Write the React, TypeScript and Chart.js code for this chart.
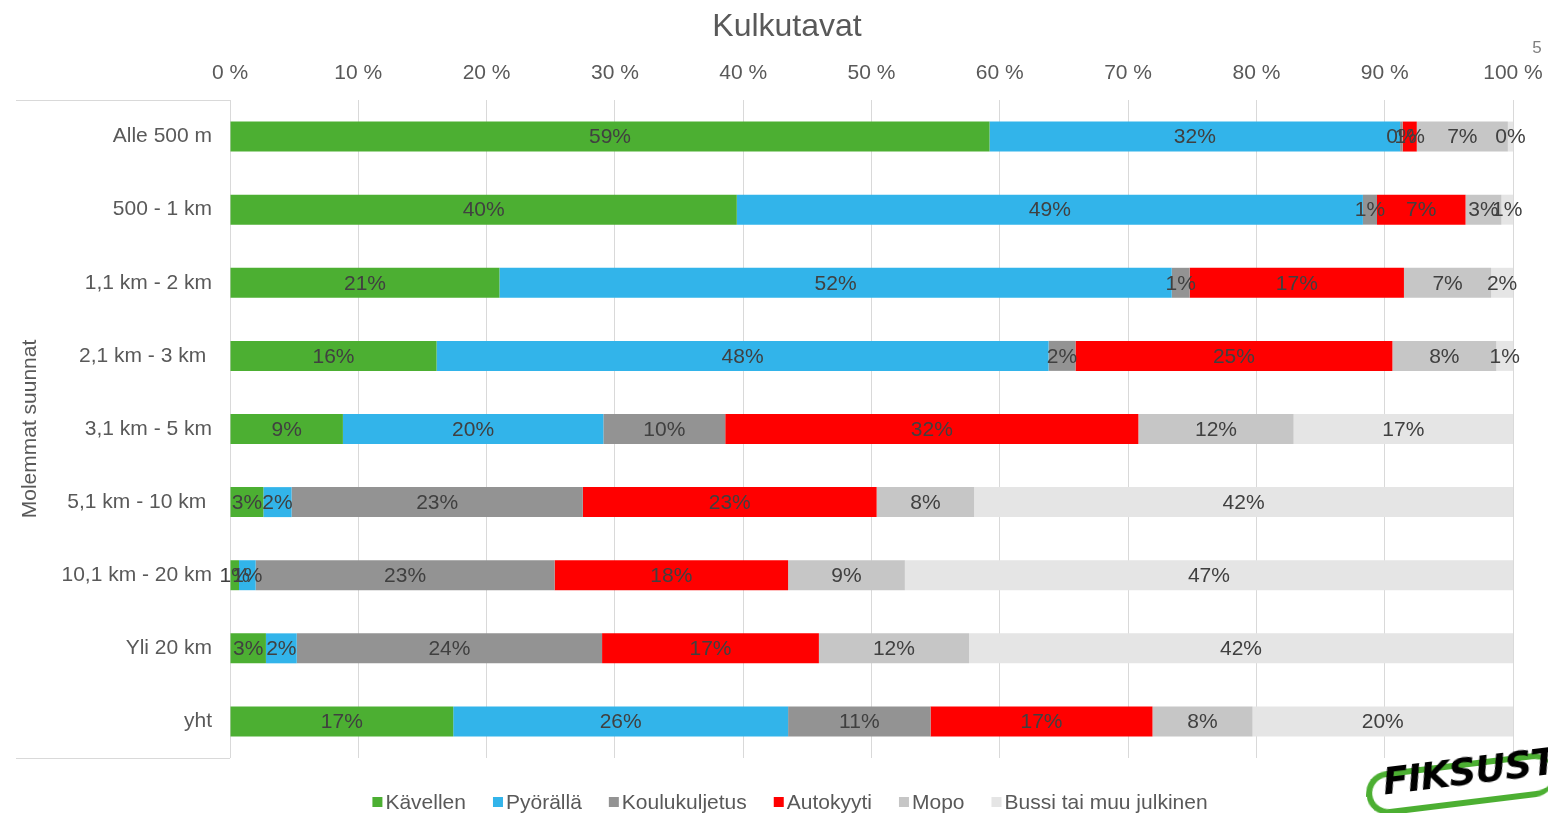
import React, { useEffect, useRef } from "react";
import { Chart, registerables } from "chart.js";
Chart.register(...registerables);

const chartTitle = "Kulkutavat";
const yAxisTitle = "Molemmat suunnat";
const pageNumber = "5";
const categories = [
  "Alle 500 m",
  "500 - 1 km",
  "1,1 km - 2 km",
  "2,1 km - 3 km ",
  "3,1 km - 5 km",
  "5,1 km - 10 km ",
  "10,1 km - 20 km",
  "Yli 20 km",
  "yht",
];
const seriesNames = ["Kävellen", "Pyörällä", "Koulukuljetus", "Autokyyti", "Mopo", "Bussi tai muu julkinen"];
const seriesColors = ["#4caf32", "#32b4ea", "#939393", "#ff0000", "#c6c6c6", "#e5e5e5"];
const kavellen = [59.2, 39.5, 21.0, 16.1, 8.8, 2.6, 0.7, 2.8, 17.4];
const pyoralla = [32.0, 48.8, 52.4, 47.7, 20.3, 2.2, 1.3, 2.4, 26.1];
const koulukuljetus = [0.2, 1.1, 1.4, 2.1, 9.5, 22.7, 23.3, 23.8, 11.1];
const autokyyti = [1.1, 6.9, 16.7, 24.7, 32.2, 22.9, 18.2, 16.9, 17.3];
const mopo = [7.1, 2.8, 6.8, 8.1, 12.1, 7.6, 9.1, 11.7, 7.8];
const bussi = [0.4, 0.9, 1.7, 1.3, 17.1, 42.0, 47.4, 42.4, 20.3];
const seriesValues = [kavellen, pyoralla, koulukuljetus, autokyyti, mopo, bussi];
const xTicks = [0, 10, 20, 30, 40, 50, 60, 70, 80, 90, 100];

const FONT = "'Liberation Sans', Arial, sans-serif";
const FS = 21;
const PAD_LEFT = 18;

const extrasPlugin = {
  id: "extras",
  afterDatasetsDraw(chart: any) {
    const ctx = chart.ctx;
    ctx.save();
    ctx.font = `${FS}px ${FONT}`;
    ctx.fillStyle = "#404040";
    ctx.textAlign = "center";
    ctx.textBaseline = "middle";
    chart.data.datasets.forEach((ds: any, di: number) => {
      const meta = chart.getDatasetMeta(di);
      meta.data.forEach((bar: any, i: number) => {
        const v = ds.data[i];
        const cx = (bar.x + bar.base) / 2;
        ctx.fillText(Math.round(v) + "%", cx, bar.y + 1);
      });
    });
    ctx.restore();
  },
  afterDraw(chart: any) {
    const ctx = chart.ctx;
    const area = chart.chartArea;
    ctx.save();
    ctx.strokeStyle = "#d9d9d9";
    ctx.lineWidth = 1;
    ctx.beginPath();
    ctx.moveTo(16, Math.round(area.top) + 0.5);
    ctx.lineTo(area.left, Math.round(area.top) + 0.5);
    ctx.moveTo(16, Math.round(area.bottom) + 0.5);
    ctx.lineTo(area.left, Math.round(area.bottom) + 0.5);
    ctx.stroke();
    // title
    ctx.fillStyle = "#595959";
    ctx.font = `32px ${FONT}`;
    ctx.textAlign = "center";
    ctx.textBaseline = "middle";
    ctx.fillText(chartTitle, 787, 27);
    // page number
    ctx.font = `17px ${FONT}`;
    ctx.fillStyle = "#7f7f7f";
    ctx.fillText(pageNumber, 1537, 48);
    // legend
    ctx.font = `${FS}px ${FONT}`;
    ctx.textAlign = "left";
    const box = 10;
    const gapText = 3;
    const gapItem = 27;
    const widths = seriesNames.map((n) => box + gapText + ctx.measureText(n).width);
    const total = widths.reduce((a, b) => a + b, 0) + gapItem * (seriesNames.length - 1);
    let x = 790 - total / 2;
    const cy = 802;
    seriesNames.forEach((n, i) => {
      ctx.fillStyle = seriesColors[i];
      ctx.fillRect(x, cy - box / 2, box, box);
      ctx.fillStyle = "#595959";
      ctx.fillText(n, x + box + gapText, cy + 1);
      x += widths[i] + gapItem;
    });
    ctx.restore();
  },
};

export default function App() {
  const canvasRef = useRef<HTMLCanvasElement | null>(null);

  useEffect(() => {
    if (!canvasRef.current) return;
    Chart.defaults.font.family = FONT;
    const chart = new Chart(canvasRef.current, {
      type: "bar",
      data: {
        labels: categories,
        datasets: seriesNames.map((name, i) => ({
          label: name,
          data: seriesValues[i],
          backgroundColor: seriesColors[i],
          borderWidth: 0,
          categoryPercentage: 1,
          barPercentage: 0.41,
        })),
      },
      options: {
        indexAxis: "y",
        responsive: true,
        maintainAspectRatio: false,
        animation: false,
        layout: { padding: { left: PAD_LEFT, right: 35, top: 60, bottom: 55 } },
        plugins: {
          legend: { display: false },
          title: { display: false },
          tooltip: { enabled: false },
        },
        scales: {
          x: {
            position: "top",
            stacked: true,
            min: 0,
            max: 100,
            afterBuildTicks: (scale: any) => {
              scale.ticks = xTicks.map((v) => ({ value: v }));
            },
            afterFit: (scale: any) => {
              scale.height = 40;
              scale.paddingLeft = 0;
              scale.paddingRight = 0;
            },
            ticks: {
              padding: 14,
              color: "#595959",
              font: { size: FS, family: FONT },
              callback: (v: any) => v + " %",
              maxRotation: 0,
            },
            grid: { color: "#d9d9d9", drawTicks: false, lineWidth: 1 },
            border: { display: false },
          },
          y: {
            stacked: true,
            afterFit: (scale: any) => {
              scale.width = 230 - PAD_LEFT;
            },
            ticks: {
              padding: 18,
              color: "#595959",
              font: { size: FS, family: FONT },
            },
            grid: { display: false, drawTicks: false },
            border: { display: false },
            title: {
              display: true,
              text: yAxisTitle,
              color: "#595959",
              font: { size: FS, family: FONT },
              padding: { top: 0, bottom: 0 },
            },
          },
        },
      },
      plugins: [extrasPlugin],
    } as any);
    return () => chart.destroy();
  }, []);

  return (
    <div
      style={{
        position: "fixed",
        left: 0,
        top: 0,
        width: 1548,
        height: 813,
        overflow: "hidden",
        background: "#ffffff",
      }}
    >
      <canvas ref={canvasRef} />
      <div
        style={{
          position: "absolute",
          left: 1362,
          top: 760,
          width: 200,
          height: 80,
          transform: "rotate(-7deg)",
          transformOrigin: "left top",
        }}
      >
        <div
          style={{
            position: "absolute",
            left: 0,
            top: 14,
            width: 190,
            height: 44,
            border: "6px solid #4caf32",
            borderRadius: 22,
            borderRight: "none",
            boxSizing: "border-box",
          }}
        />
        <div
          style={{
            position: "absolute",
            left: 18,
            top: 2,
            fontFamily: "'DejaVu Sans', sans-serif",
            fontWeight: 900,
            fontStyle: "italic",
            fontSize: 38,
            color: "#000000",
            letterSpacing: -1,
            lineHeight: "44px",
          }}
        >
          FIKSUST
        </div>
      </div>
    </div>
  );
}
